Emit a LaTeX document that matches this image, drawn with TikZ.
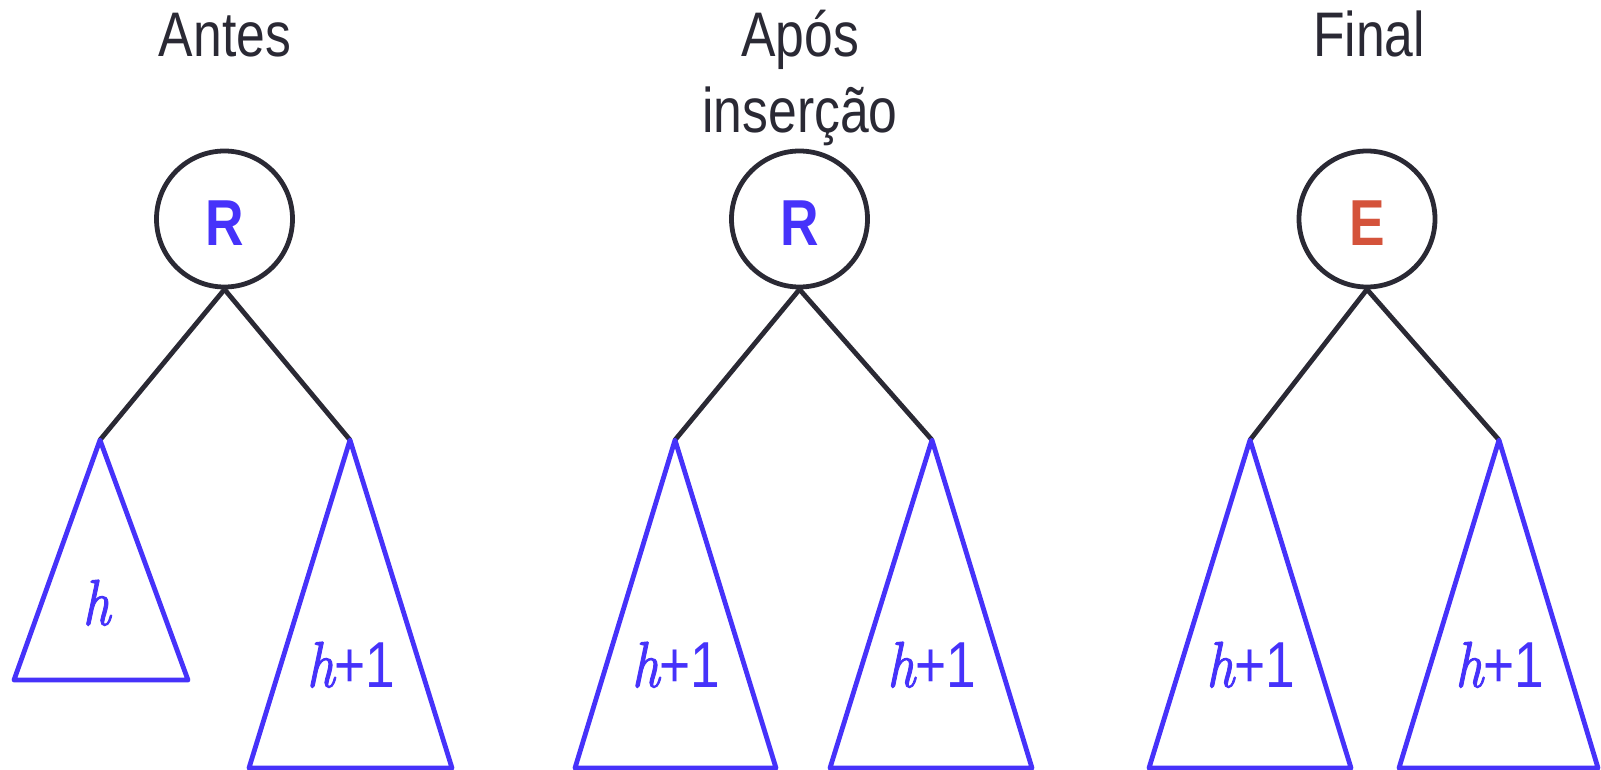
\documentclass[tikz,border=0pt]{standalone}
\usepackage{graphicx}
\usepackage{fontspec}
\newfontfamily\nsans[FakeStretch=0.82]{Liberation Sans}
\newfontfamily\hfont[FakeBold=1.6]{lmroman10-italic.otf}
\definecolor{ink}{RGB}{42,41,52}
\definecolor{tblue}{RGB}{70,50,250}
\definecolor{ered}{RGB}{212,83,59}
\newcommand\hvar{\scalebox{0.84}[1]{\hfont h}}
\begin{document}
\begin{tikzpicture}[x=1pt,y=-1pt,
  title/.style={anchor=base, inner sep=0, text=ink, font=\nsans\fontsize{63}{76}\selectfont},
  circ/.style={draw=ink, line width=4.8pt, circle, minimum size=136pt, inner sep=0},
  rootlbl/.style={inner sep=0, font=\nsans\bfseries\fontsize{65}{78}\selectfont},
  edge/.style={draw=ink, line width=4.8pt},
  tri/.style={draw=tblue, line width=4.8pt, line join=round},
  hlbl/.style={anchor=base, inner sep=0, text=tblue, font=\fontsize{65}{78}\selectfont}]
\useasboundingbox (0,0) rectangle (1601,770);

% titles
\node[title] (t1) at (225,57) {Antes};
\node[title] (t2a) at (800,57) {Após};
\node[title] (t2b) at (800,133) {inserção};
\node[title] (t3) at (1369,57) {Final};

% roots
\node[circ] (r1) at (224.5,219) {};
\node[rootlbl, text=tblue] (r1l) at ([yshift=-4.5pt]r1.center) {R};
\node[circ] (r2) at (799.5,219) {};
\node[rootlbl, text=tblue] (r2l) at ([yshift=-4.5pt]r2.center) {R};
\node[circ] (r3) at (1367,219) {};
\node[rootlbl, text=ered] (r3l) at ([yshift=-4.5pt]r3.center) {E};

% subtree apexes and bases
\coordinate (a1) at (100,440);  \coordinate (b1l) at (14,680);   \coordinate (b1r) at (188,680);
\coordinate (a2) at (350,440);  \coordinate (b2l) at (249,768);  \coordinate (b2r) at (452,768);
\coordinate (a3) at (675,440);  \coordinate (b3l) at (575,768);  \coordinate (b3r) at (776,768);
\coordinate (a4) at (932,440);  \coordinate (b4l) at (830,768);  \coordinate (b4r) at (1032,768);
\coordinate (a5) at (1250,440); \coordinate (b5l) at (1149,768); \coordinate (b5r) at (1351,768);
\coordinate (a6) at (1499,440); \coordinate (b6l) at (1399,768); \coordinate (b6r) at (1598,768);

% edges
\draw[edge] (r1.south) -- (a1);
\draw[edge] (r1.south) -- (a2);
\draw[edge] (r2.south) -- (a3);
\draw[edge] (r2.south) -- (a4);
\draw[edge] (r3.south) -- (a5);
\draw[edge] (r3.south) -- (a6);

% subtrees
\draw[tri] (a1) -- (b1r) -- (b1l) -- cycle;
\draw[tri] (a2) -- (b2r) -- (b2l) -- cycle;
\draw[tri] (a3) -- (b3r) -- (b3l) -- cycle;
\draw[tri] (a4) -- (b4r) -- (b4l) -- cycle;
\draw[tri] (a5) -- (b5r) -- (b5l) -- cycle;
\draw[tri] (a6) -- (b6r) -- (b6l) -- cycle;

% heights
\node[hlbl] (l1) at (96.5,625) {\hvar};
\node[hlbl] (l2) at (351,687) {\hvar\nsans +1};
\node[hlbl] (l3) at (676,687) {\hvar\nsans +1};
\node[hlbl] (l4) at (931.5,687) {\hvar\nsans +1};
\node[hlbl] (l5) at (1250.5,687) {\hvar\nsans +1};
\node[hlbl] (l6) at (1499.5,687) {\hvar\nsans +1};
\end{tikzpicture}
\end{document}
